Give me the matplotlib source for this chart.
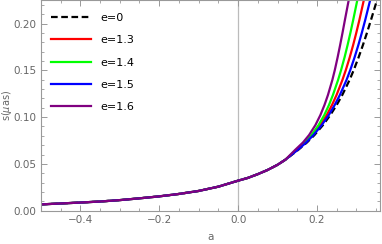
import matplotlib
matplotlib.use("Agg")
import matplotlib.pyplot as plt
from matplotlib.ticker import MultipleLocator, FormatStrFormatter, FuncFormatter

# shared part of all curves (they overlap for a < ~0.13)
a_common = [-0.5, -0.45, -0.4, -0.35, -0.3, -0.25, -0.2, -0.15, -0.1, -0.05,
            0.0, 0.025, 0.05, 0.075, 0.1, 0.12]
s_common = [0.0066, 0.0076, 0.0086, 0.0097, 0.0112, 0.0131, 0.0152, 0.0178,
            0.0210, 0.0256, 0.0320, 0.0350, 0.0390, 0.0435, 0.0490, 0.0545]

# upper part: a read at fixed levels of s, one list per curve
s_levels = [0.0648, 0.0728, 0.0808, 0.0915, 0.1022, 0.1130, 0.1237, 0.1397,
            0.1504, 0.1640, 0.1772, 0.1900, 0.2040, 0.2254]
a_e0 = [0.1519, 0.1743, 0.1935, 0.2152, 0.2337, 0.2499, 0.2641, 0.2825,
        0.2932, 0.3055, 0.3165, 0.3265, 0.3369, 0.3522]
a_e13 = [0.1494, 0.1708, 0.1888, 0.2086, 0.2246, 0.2381, 0.2496, 0.2644,
         0.2731, 0.2830, 0.2917, 0.2995, 0.3075, 0.3188]
a_e14 = [0.1481, 0.1689, 0.1859, 0.2041, 0.2185, 0.2304, 0.2404, 0.2534,
         0.2611, 0.2699, 0.2776, 0.2846, 0.2918, 0.3023]
a_e15 = [0.1506, 0.1724, 0.1910, 0.2121, 0.2298, 0.2449, 0.2580, 0.2748,
         0.2844, 0.2953, 0.3049, 0.3135, 0.3223, 0.3349]
a_e16 = [0.1443, 0.1643, 0.1799, 0.1960, 0.2086, 0.2190, 0.2278, 0.2389,
         0.2452, 0.2523, 0.2587, 0.2646, 0.2708, 0.2805]

labels = ["e=0", "e=1.3", "e=1.4", "e=1.5", "e=1.6"]
colors = ["black", "#ff0000", "#00ff00", "#0000ff", "#800080"]
styles = ["--", "-", "-", "-", "-"]

fig = plt.figure(figsize=(3.82, 2.44), dpi=100)
ax = fig.add_axes([0.107, 0.137, 0.888, 0.863])

gray = "#999999"
ax.axvline(0, color="#bbbbbb", lw=0.9, zorder=0)

for a_top, lab, c, ls in zip([a_e0, a_e13, a_e14, a_e15, a_e16], labels, colors, styles):
    if ls == "--":
        ax.plot(a_common + a_top, s_common + s_levels, color=c, lw=1.6,
                label=lab, dashes=(3, 1.6))
    else:
        ax.plot(a_common + a_top, s_common + s_levels, color=c, lw=1.6, label=lab)

ax.set_xlim(-0.5, 0.36)
ax.set_ylim(0, 0.2254)
ax.xaxis.set_major_locator(MultipleLocator(0.2))
ax.xaxis.set_minor_locator(MultipleLocator(0.05))
ax.yaxis.set_major_locator(MultipleLocator(0.05))
ax.yaxis.set_minor_locator(MultipleLocator(0.01))
ax.yaxis.set_major_formatter(FormatStrFormatter("%.2f"))
ax.xaxis.set_major_formatter(FuncFormatter(
    lambda v, p: "0.0" if abs(v) < 1e-9 else ("%.1f" % v).replace("-", "\u2212")))

ax.tick_params(which="both", direction="in", top=True, right=True,
               color=gray, labelcolor="#666666", labelsize=7.5)
ax.tick_params(which="major", length=4, width=0.7)
ax.tick_params(which="minor", length=2, width=0.6)
for sp in ax.spines.values():
    sp.set_color(gray)
    sp.set_linewidth(0.8)

ax.set_xlabel("a", color="#666666", fontsize=7.5, labelpad=5)
ax.set_ylabel("s($\\mu$as)", color="#666666", fontsize=7)
ax.yaxis.set_label_coords(-0.08, 0.5)

ax.legend(loc="upper left", bbox_to_anchor=(0, 0.985), frameon=False, fontsize=8,
          handlelength=3.6, labelspacing=1.1, borderaxespad=0.5, handletextpad=0.9)

fig.savefig("out.png", dpi=100)
